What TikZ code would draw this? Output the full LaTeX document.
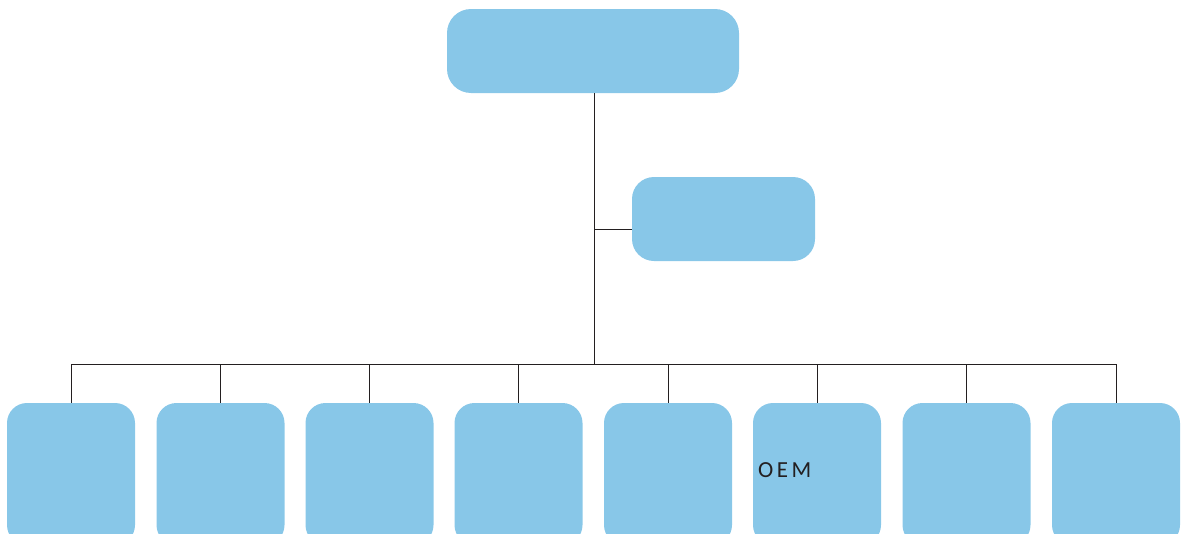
\documentclass[tikz,border=0pt]{standalone}
\usepackage{fontspec}
\newfontfamily\oemfont[LetterSpace=15]{Carlito}
\definecolor{boxblue}{RGB}{136,199,232}
\definecolor{linegray}{RGB}{35,31,32}
\begin{document}
\begin{tikzpicture}[x=1pt,y=-1pt,
  orgbox/.style={fill=boxblue,draw=none,rounded corners=#1,inner sep=0pt},
  orgbox/.default=20pt,
  conn/.style={draw=linegray,line width=1pt}]
\useasboundingbox (0,0) rectangle (1182,533);
\clip (0,0) rectangle (1182,533);
\node[orgbox=24pt,minimum width=292pt,minimum height=84pt] (top) at (593,51) {};
\node[orgbox=22pt,minimum width=183pt,minimum height=84pt] (mid) at (723.5,219) {};
\foreach \i/\x in {1/71,2/220.5,3/369.5,4/518.5,5/668,6/817,7/966.5,8/1116}{
  \node[orgbox=20pt,minimum width=128pt,minimum height=142pt] (b\i) at (\x,474) {};
}
\node[anchor=base west,inner sep=0pt,text=linegray,font=\oemfont\fontsize{23}{27}\selectfont] (oem) at (758,477) {OEM};
\coordinate (bus) at (594,364.5);
\draw[conn] ([xshift=1pt]top.south) -- (bus);
\draw[conn] ([yshift=-10pt]mid.west) -- ([yshift=-10pt]bus |- mid.west);
\draw[conn] (b1.north) -- (b1.north |- bus) -- (b8.north |- bus) -- (b8.north);
\foreach \i in {2,...,7}{
  \draw[conn] (b\i.north) -- (b\i.north |- bus);
}
\end{tikzpicture}
\end{document}
